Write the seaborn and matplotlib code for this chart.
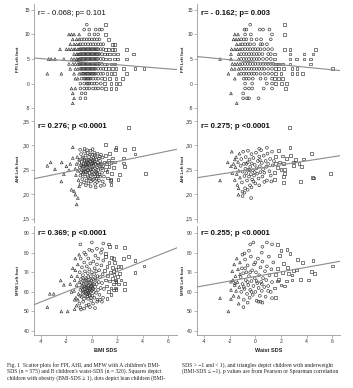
import numpy as np
import pandas as pd
import seaborn as sns
import matplotlib.pyplot as plt

sns.set_theme(style="white")
plt.rcParams['font.family'] = ['Liberation Sans', 'DejaVu Sans']

# ---- FPI (integer scores): x positions for each score level ----
fpi_levels = [12, 11, 10, 9, 8, 7, 6, 5, 4, 3, 2, 1, 0, -1, -2, -3, -4]

fpi_bmi_rows = [
    [-0.4, 1.1],
    [-0.6, -0.2, 0.3, 0.6, 0.8],
    [-1.8, -1.6, -1.4, -1.0, -0.2, 0.2, 0.5, 1.1],
    [-1.5, -1.2, -1.0, -0.8, -0.6, -0.4, -0.2, 0.0, 0.2, 0.4, 0.6, 1.3],
    [-1.7, -1.4, -1.2, -1.0, -0.9, -0.7, -0.5, -0.3, -0.1, 0.1, 0.3, 0.5, 0.7, 0.9, 1.6, 1.8],
    [-2.5, -2.0, -1.8, -1.6, -1.4, -1.3, -1.1, -1.0, -0.9, -0.8, -0.7, -0.6, -0.5, -0.4, -0.3,
     -0.2, -0.1, 0.0, 0.1, 0.2, 0.3, 0.4, 0.5, 0.7, 0.9, 1.1, 1.3, 1.6, 1.8, 2.7],
    [-1.4, -1.2, -1.1, -1.0, -0.9, -0.8, -0.7, -0.6, -0.5, -0.4, -0.3, -0.2, -0.1, 0.0, 0.1,
     0.2, 0.3, 0.4, 0.5, 0.6, 0.8, 1.0, 1.2, 1.4, 1.7, 2.0, 3.3],
    [-3.4, -3.2, -2.9, -2.2, -1.6, -1.4, -1.2, -1.1, -1.0, -0.9, -0.8, -0.7, -0.6, -0.5, -0.4,
     -0.3, -0.2, -0.1, 0.0, 0.1, 0.2, 0.3, 0.4, 0.5, 0.7, 0.9, 1.1, 1.4, 1.8, 2.0, 2.7],
    [-1.8, -1.5, -1.3, -1.1, -1.0, -0.9, -0.8, -0.7, -0.6, -0.5, -0.4, -0.3, -0.2, -0.1, 0.0,
     0.1, 0.2, 0.3, 0.4, 0.5, 0.6, 0.8, 1.0, 1.2, 1.5, 1.8],
    [-1.7, -1.3, -1.1, -0.9, -0.8, -0.7, -0.6, -0.5, -0.4, -0.3, -0.2, -0.1, 0.0, 0.1, 0.2,
     0.3, 0.5, 0.7, 0.9, 1.1, 1.3, 1.6, 1.9, 2.5, 3.4, 4.1],
    [-3.5, -2.4, -1.4, -1.0, -0.8, -0.7, -0.6, -0.5, -0.4, -0.3, -0.2, -0.1, 0.0, 0.1, 0.2,
     0.3, 0.5, 0.7, 0.9, 1.2, 1.5, 1.8, 2.7],
    [-1.3, -1.1, -0.8, -0.6, -0.5, -0.4, -0.3, -0.2, -0.1, 0.1, 0.3, 0.5, 0.8, 1.0, 1.4, 1.9, 2.4],
    [-0.9, -0.6, -0.4, -0.3, -0.2, 0.0, 0.2, 0.4, 0.7, 1.0, 1.5, 1.9, 2.2],
    [-1.6, -1.3, -0.9, -0.6, -0.4, -0.2, 0.1, 0.3, 0.5, 0.8, 1.1, 1.5, 1.9],
    [-1.5, -0.8, -0.5],
    [-1.4, -0.9, -0.5],
    [-1.5],
]

fpi_waist_rows = [
    [-0.4, 2.3],
    [-0.85, -0.7, 0.35, 0.6, 1.1],
    [-1.6, -1.35, -0.8, -0.35, 1.3, 2.3],
    [-1.7, -1.5, -1.3, -1.1, -0.9, -0.7, -0.3, 0.1, 0.45, 1.2],
    [-1.45, -1.2, -1.0, -0.8, -0.6, -0.4, -0.1, 0.4, 0.55, 0.9],
    [-1.85, -1.6, -1.4, -1.2, -1.0, -0.8, -0.6, -0.4, -0.2, 0.0, 0.2, 0.4, 0.7, 1.0, 1.3, 2.3, 2.7, 4.7],
    [-1.9, -1.3, -1.1, -0.9, -0.7, -0.5, -0.3, -0.1, 0.1, 0.3, 0.55, 1.0, 1.2, 1.5, 2.7, 3.8, 4.5],
    [-2.75, -1.9, -1.3, -1.1, -0.9, -0.7, -0.5, -0.3, -0.1, 0.1, 0.3, 0.6, 0.9, 1.2, 1.5, 2.7,
     3.2, 3.8, 4.3],
    [-1.8, -1.6, -1.4, -1.2, -1.0, -0.8, -0.6, -0.4, -0.2, 0.0, 0.2, 0.4, 0.6, 0.8, 1.0, 1.2,
     1.4, 1.6, 1.8, 2.1, 2.7, 4.3],
    [-1.85, -1.6, -1.3, -1.1, -0.9, -0.7, -0.5, -0.3, -0.1, 0.1, 0.3, 0.5, 0.7, 1.0, 1.3, 1.6,
     1.8, 2.2, 2.85, 3.25, 6.0],
    [-2.1, -1.3, -1.1, -0.9, -0.7, -0.5, -0.3, -0.1, 0.1, 0.4, 0.7, 1.0, 1.3, 1.6, 2.0, 2.85, 3.25, 3.7],
    [-1.6, -0.9, -0.7, -0.5, -0.2, 0.4, 0.8, 1.3, 1.5, 1.8, 2.1],
    [-0.8, -0.25, 0.9, 1.3, 1.55, 2.05, 2.45],
    [-0.8, -0.5, -0.25, 0.65, 1.3, 2.35],
    [-1.9, -0.95],
    [-0.95, -0.65, -0.5, 0.25],
    [-1.45],
]

# ---- AHI vs BMI-SDS ----
ahi_bmi_pts = [
    (-1.2, .262), (-1.1, .248), (-1.0, .271), (-0.95, .255), (-0.9, .238), (-0.85, .282), (-0.8, .266),
    (-0.78, .249), (-0.75, .231), (-0.7, .275), (-0.68, .258), (-0.65, .244), (-0.6, .287), (-0.58, .268),
    (-0.55, .252), (-0.52, .236), (-0.5, .279), (-0.48, .261), (-0.45, .245), (-0.42, .228), (-0.4, .270),
    (-0.38, .256), (-0.35, .240), (-0.32, .284), (-0.3, .264), (-0.28, .249), (-0.25, .233), (-0.22, .276),
    (-0.2, .259), (-0.18, .243), (-0.15, .268), (-0.12, .252), (-0.1, .289), (-0.08, .237), (-0.05, .272),
    (-0.02, .257), (0.0, .246), (0.03, .281), (0.05, .263), (0.08, .229), (0.1, .250), (0.12, .274),
    (0.15, .258), (0.18, .241), (0.2, .285), (0.22, .267), (0.25, .253), (0.28, .236), (0.3, .276),
    (0.33, .261), (0.35, .246), (0.38, .271), (0.4, .255), (0.42, .225), (0.45, .283), (0.48, .264),
    (0.5, .249), (0.55, .273), (0.58, .258), (0.6, .240), (0.65, .268), (0.7, .252), (0.72, .281),
    (0.75, .262), (0.8, .244), (0.85, .275), (0.9, .257), (0.95, .236), (1.0, .266), (1.05, .251),
    (1.1, .279), (1.15, .262), (1.2, .246), (1.3, .270), (1.35, .256), (1.4, .284), (1.5, .265),
    (1.55, .242), (1.65, .274), (1.7, .255), (1.8, .266), (-1.25, .239), (-1.15, .276), (-1.05, .229),
    (-0.92, .291), (-0.88, .221), (-0.72, .241), (-0.62, .224), (-0.57, .293), (-0.47, .218),
    (-0.36, .290), (-0.27, .222), (-0.16, .232), (-0.06, .226), (0.06, .292), (0.16, .231), (0.26, .221),
    (0.36, .232), (0.46, .236), (0.56, .228), (0.66, .236), (0.86, .226), (1.25, .233), (1.45, .228),
    (-0.82, .258), (-0.66, .250), (-0.44, .262), (-0.24, .270), (-0.04, .262), (0.14, .266), (0.32, .244),
    (0.52, .260), (0.62, .277), (0.82, .253), (-1.3, .252), (-0.98, .264), (-0.76, .273), (-0.54, .270),
    (-0.34, .249), (-0.14, .281), (0.02, .240), (0.24, .279), (0.44, .242), (0.68, .261),
    (-0.86, .245), (-0.64, .262), (-0.46, .254), (-0.26, .256), (-0.06, .250), (0.12, .258),
    (-0.72, .256), (-0.52, .246), (-0.32, .262), (-0.12, .266), (0.08, .270), (0.28, .262),
    (2.88, .337), (-3.5, .258), (-3.24, .265), (-2.37, .265), (-2.9, .251), (-2.2, .241), (-2.4, .226),
    (-1.5, .274), (-1.5, .296), (-1.19, .179), (-1.1, .192), (-1.4, .206), (-1.6, .209), (-1.3, .199),
    (-1.0, .216), (3.27, .294), (2.6, .292), (3.4, .282), (2.5, .274), (2.5, .264), (2.6, .257),
    (4.2, .242), (1.86, .291), (1.9, .296), (2.2, .240), (2.05, .230), (1.5, .230), (0.97, .219),
    (1.5, .219), (0.7, .217), (-0.1, .216), (0.3, .214), (1.1, .302), (-1.7, .262), (-1.8, .249),
    (-2.0, .257),
]

# ---- AHI vs waist-SDS ----
ahi_waist_pts = [
    (-1.8, .243), (-1.7, .262), (-1.6, .229), (-1.55, .255), (-1.5, .276), (-1.45, .241), (-1.4, .219),
    (-1.35, .266), (-1.3, .248), (-1.25, .283), (-1.2, .234), (-1.15, .258), (-1.1, .272), (-1.05, .224),
    (-1.0, .246), (-0.95, .287), (-0.9, .262), (-0.85, .237), (-0.8, .212), (-0.78, .252), (-0.75, .276),
    (-0.7, .243), (-0.65, .228), (-0.6, .265), (-0.58, .289), (-0.55, .250), (-0.5, .236), (-0.45, .271),
    (-0.42, .218), (-0.4, .256), (-0.35, .241), (-0.3, .282), (-0.28, .263), (-0.25, .230), (-0.2, .249),
    (-0.15, .274), (-0.1, .238), (-0.05, .260), (0.0, .222), (0.05, .285), (0.1, .253), (0.15, .242),
    (0.2, .268), (0.25, .232), (0.3, .277), (0.35, .257), (0.4, .245), (0.45, .290), (0.5, .264),
    (0.55, .236), (0.6, .251), (0.65, .279), (0.7, .244), (0.8, .268), (0.85, .256), (0.9, .228),
    (0.95, .283), (1.0, .262), (1.1, .247), (1.15, .272), (1.2, .238), (1.3, .287), (1.35, .259),
    (1.45, .268), (1.5, .244), (1.6, .277), (1.7, .255), (1.8, .289), (1.9, .266), (2.0, .250),
    (2.1, .278), (2.2, .262), (2.4, .273), (-1.0, .205), (-0.6, .209), (-0.3, .214), (0.3, .218),
    (-1.3, .212), (0.7, .225), (1.25, .226), (-0.15, .226), (-0.7, .262), (-0.45, .249), (-0.05, .245),
    (0.35, .270), (1.55, .262), (2.3, .250), (-1.6, .271), (-1.9, .257),
    (2.67, .337), (-1.84, .287), (-2.15, .265), (-2.75, .228), (-1.32, .199), (-0.33, .192),
    (5.85, .242), (4.54, .233), (4.45, .234), (3.5, .226), (4.4, .284), (2.7, .296), (2.3, .243),
    (3.76, .272), (3.4, .262), (3.6, .257), (2.95, .258), (2.75, .279), (2.2, .224), (2.2, .236),
    (1.5, .230), (-1.0, .196), (-0.85, .203), (0.9, .295), (0.3, .293), (3.1, .271), (3.0, .266),
]

# ---- MFW vs BMI-SDS ----
mfw_bmi_pts = [
    (-1.4, 60.5), (-1.35, 66), (-1.3, 71), (-1.25, 57), (-1.2, 63.5), (-1.15, 68), (-1.1, 74), (-1.05, 59),
    (-1.0, 65), (-0.98, 54), (-0.95, 70), (-0.9, 61), (-0.88, 77), (-0.85, 66.5), (-0.8, 57.5),
    (-0.78, 72.5), (-0.75, 63), (-0.7, 68.5), (-0.68, 55), (-0.65, 60), (-0.6, 75), (-0.58, 65.5),
    (-0.55, 70.5), (-0.52, 58), (-0.5, 62.5), (-0.48, 79), (-0.45, 67), (-0.42, 53), (-0.4, 73),
    (-0.38, 60.5), (-0.35, 64.5), (-0.32, 69.5), (-0.3, 56.5), (-0.28, 77), (-0.25, 62), (-0.22, 66),
    (-0.2, 71.5), (-0.18, 58.5), (-0.15, 64), (-0.12, 74.5), (-0.1, 60), (-0.08, 68), (-0.05, 55.5),
    (-0.02, 63), (0.0, 70), (0.03, 81), (0.05, 58), (0.08, 66.5), (0.1, 61.5), (0.12, 75.5), (0.15, 64),
    (0.18, 69), (0.2, 57), (0.22, 72), (0.25, 62.5), (0.28, 78.5), (0.3, 66), (0.33, 59.5), (0.35, 70.5),
    (0.38, 64), (0.4, 74), (0.42, 55), (0.45, 68), (0.48, 61), (0.5, 77), (0.55, 65), (0.58, 71),
    (0.6, 58.5), (0.65, 67.5), (0.7, 62), (0.72, 80), (0.75, 73.5), (0.8, 64.5), (0.85, 69), (0.88, 57),
    (0.9, 76), (0.95, 61.5), (1.0, 71), (1.05, 66), (1.1, 78), (1.15, 63), (1.2, 73), (1.25, 68.5),
    (1.3, 60), (1.35, 75), (1.4, 65.5), (1.45, 70), (1.5, 62), (1.55, 77.5), (1.6, 67), (1.65, 72.5),
    (1.7, 64), (1.75, 69), (1.8, 75), (1.85, 66), (1.9, 71.5), (2.0, 68), (2.05, 73), (2.1, 64),
    (2.2, 69.5), (-1.1, 56), (-0.92, 58), (-0.72, 59.5), (-0.62, 56.5), (-0.46, 59), (-0.36, 57.5),
    (-0.26, 59.5), (-0.06, 57), (-0.82, 62), (-0.66, 64), (-0.56, 61.5), (-0.44, 63.5), (-0.34, 61),
    (-0.24, 65), (-0.14, 61.5), (-0.04, 66), (0.06, 62), (0.16, 60), (-0.72, 67), (-0.5, 66),
    (-0.3, 67.5), (-0.1, 64.5), (0.26, 67), (-1.2, 53), (-0.9, 52), (-0.6, 51.5), (-0.25, 53.5),
    (0.1, 54), (0.45, 56), (-1.0, 79), (-0.6, 80), (-0.2, 81.5), (0.4, 82), (1.7, 61), (1.85, 62),
    (1.7, 70.5), (1.9, 65), (0.8, 55),
    (-0.7, 61), (-0.5, 60), (-0.3, 63), (-0.1, 62.5), (-0.6, 63), (-0.4, 62), (-0.2, 60.5), (0.0, 61),
    (-0.8, 64.5), (-0.35, 59), (-0.15, 58), (0.05, 64),
    (-3.5, 52.2), (-3.3, 59), (-3.0, 59), (-2.45, 65.8), (-2.2, 63.6), (-2.4, 50), (-1.9, 50),
    (-1.35, 51.2), (-1.35, 56), (-0.9, 84.2), (0.0, 85.2), (0.9, 84.7), (1.3, 84.4), (1.4, 83),
    (1.9, 83), (2.6, 82.5), (0.8, 81.7), (1.1, 79.6), (1.7, 77), (2.9, 77.9), (3.4, 76.2), (2.5, 77),
    (3.4, 69.8), (4.1, 73.2), (2.6, 61.4), (2.6, 64.4), (1.9, 65.2), (1.9, 61.4), (1.5, 58.5),
    (1.2, 56.8), (0.65, 56), (0.25, 51.7), (-0.15, 52.2), (-0.85, 51), (-1.6, 60), (-1.7, 64),
    (-1.6, 68), (-1.5, 72), (-1.3, 77), (2.3, 73), (2.3, 66),
]

# ---- MFW vs waist-SDS ----
mfw_waist_pts = [
    (-1.9, 61), (-1.8, 70.5), (-1.75, 66), (-1.7, 58), (-1.65, 74), (-1.6, 63.5), (-1.55, 68),
    (-1.5, 60.5), (-1.45, 77), (-1.4, 65), (-1.35, 71.5), (-1.3, 57.5), (-1.25, 62.5), (-1.2, 75),
    (-1.15, 67.5), (-1.1, 60), (-1.05, 72), (-1.0, 64), (-0.95, 69.5), (-0.9, 56), (-0.85, 61.5),
    (-0.8, 76.5), (-0.75, 66), (-0.7, 70), (-0.65, 59), (-0.6, 73.5), (-0.55, 63.5), (-0.5, 68),
    (-0.45, 57), (-0.4, 61), (-0.35, 78), (-0.3, 65.5), (-0.25, 71), (-0.2, 58.5), (-0.15, 63),
    (-0.1, 74), (-0.05, 67), (0.0, 60), (0.05, 70), (0.1, 55.5), (0.15, 64.5), (0.2, 77), (0.25, 62),
    (0.3, 68.5), (0.35, 58), (0.4, 72.5), (0.45, 65), (0.5, 60.5), (0.55, 75.5), (0.6, 67), (0.7, 62.5),
    (0.75, 70.5), (0.8, 57.5), (0.85, 66), (0.9, 73), (1.0, 63), (1.05, 78), (1.1, 68.5), (1.2, 60),
    (1.25, 71.5), (1.3, 65), (1.4, 75), (1.5, 62), (1.55, 69), (1.6, 57), (1.7, 72), (1.8, 66.5),
    (1.9, 78.5), (2.0, 63.5), (2.1, 70), (2.2, 74.5), (-1.3, 54), (-0.6, 54.5), (0.4, 55), (-1.0, 79),
    (-0.5, 81), (0.5, 80), (-1.6, 64.5), (-1.2, 69), (-0.9, 62.5), (-0.6, 65), (-0.3, 60), (0.1, 65.5),
    (0.5, 64), (-0.8, 72), (-0.4, 70), (0.0, 75), (1.0, 60.5),
    (-2.1, 50), (-2.75, 56.8), (-0.93, 52.2), (-1.9, 65.2), (-1.9, 56.3), (-0.85, 79.6), (-0.15, 85.2),
    (-0.4, 84.2), (0.9, 85.2), (1.3, 84.2), (1.7, 84.2), (0.55, 83), (2.46, 81.8), (2.0, 81.3),
    (2.7, 79.6), (6.0, 73.2), (4.5, 76.2), (4.4, 70.3), (4.6, 69.5), (3.7, 74.9), (4.15, 66),
    (3.2, 71.2), (2.85, 68.6), (2.85, 66), (2.45, 65.5), (2.3, 63), (1.7, 65.5), (1.3, 56.8),
    (0.24, 55), (0.55, 54.5), (3.5, 66.5), (3.0, 71), (2.6, 69.5), (2.5, 72.5), (3.3, 76.5),
]

stat_labels = ["r= - 0.068; p= 0.101", "r= - 0.162; p= 0.003",
               "r= 0.276; p <0.0001", "r= 0.275; p <0.0001",
               "r= 0.369; p <0.0001", "r= 0.255; p <0.0001"]
fit_slope = [-0.209, -0.256, 0.00537, 0.00404, 2.58, 1.175]
fit_intercept = [4.25, 4.34, 0.256, 0.252, 65.2, 67.85]
y_names = ["FPI Left foot", "AHI Left foot", "MFW Left foot"]
x_names = ["BMI SDS", "Waist SDS"]


def rows_to_frame(levels, rows):
    xs, ys = [], []
    for lv, r in zip(levels, rows):
        xs += r
        ys += [lv] * len(r)
    return np.array(xs), np.array(ys, dtype=float)


def pts_to_frame(pts):
    a = np.array(pts)
    return a[:, 0], a[:, 1]


def make_df(x, y, lo, hi):
    grp = np.where(x <= lo, "under", np.where(x >= hi, "obese", "lean"))
    return pd.DataFrame({"x": x, "y": y, "grp": grp})


frames = [
    make_df(*rows_to_frame(fpi_levels, fpi_bmi_rows), -1, 1),
    make_df(*rows_to_frame(fpi_levels, fpi_waist_rows), -1.2, 1.5),
    make_df(*pts_to_frame(ahi_bmi_pts), -1, 1),
    make_df(*pts_to_frame(ahi_waist_pts), -1.2, 1.5),
    make_df(*pts_to_frame(mfw_bmi_pts), -1, 1),
    make_df(*pts_to_frame(mfw_waist_pts), -1.2, 1.5),
]

W, H = 353, 388
fig = plt.figure(figsize=(W / 100, H / 100), dpi=100)
fig.patch.set_facecolor("white")

col_left = [34, 197]
col_xlim = [(-4.55, 6.7), (-4.55, 6.6)]
row_box = [(4, 115), (116, 222), (226, 335)]  # top, bottom in px
row_ylim = [(-6.4, 16.2), (0.143, 0.360), (38.0, 93.6)]
row_ticks = [[-5, 0, 5, 10, 15], [.15, .20, .25, .30, .35], [40, 50, 60, 70, 80, 90]]
row_ticklabels = [["-5", "0", "5", "10", "15"], [",15", ",20", ",25", ",30", ",35"],
                  ["40", "50", "60", "70", "80", "90"]]
text_y = [0.91, 0.905, 0.935]

axis_grey = "#9a9a9a"
mark_col = "#333333"

for r in range(3):
    for c in range(2):
        k = r * 2 + c
        top, bot = row_box[r]
        ax = fig.add_axes([col_left[c] / W, 1 - bot / H, 143 / W, (bot - top) / H])
        df = frames[k]
        sns.scatterplot(data=df, x="x", y="y", style="grp",
                        markers={"lean": "o", "obese": "s", "under": "^"},
                        s=4, color=mark_col, facecolor="none", edgecolor=mark_col,
                        linewidth=0.45, legend=False, ax=ax, zorder=2)
        xs = np.array(col_xlim[c])
        ax.plot(xs, fit_intercept[k] + fit_slope[k] * xs, color="#8c8c8c", lw=0.8, zorder=3)
        ax.set_xlim(*col_xlim[c])
        ax.set_ylim(*row_ylim[r])
        ax.set_facecolor("white")
        for s in ["top", "right"]:
            ax.spines[s].set_visible(False)
        ax.spines["left"].set_color(axis_grey)
        ax.spines["left"].set_linewidth(0.6)
        ax.set_yticks(row_ticks[r])
        ax.set_yticklabels(row_ticklabels[r])
        ax.tick_params(axis="y", length=2, width=0.5, color=axis_grey, pad=1,
                       labelsize=3.6, labelcolor="#333333", left=True)
        ax.set_ylabel(y_names[r], fontsize=3.2, fontweight="bold", color="#222222")
        ax.yaxis.set_label_coords(-14 / 143 if c == 0 else -12 / 143, 0.5)
        if r < 2:
            ax.spines["bottom"].set_visible(False)
            ax.set_xticks([])
            ax.set_xlabel("")
        else:
            ax.spines["bottom"].set_color(axis_grey)
            ax.spines["bottom"].set_linewidth(0.6)
            ax.set_xticks([-4, -2, 0, 2, 4, 6])
            ax.set_xticklabels(["-4", "-2", "0", "2", "4", "6"])
            ax.tick_params(axis="x", length=2, width=0.5, color=axis_grey, pad=1,
                           labelsize=3.6, labelcolor="#333333", bottom=True)
            ax.set_xlabel(x_names[c], fontsize=4.0, fontweight="bold", color="#222222", labelpad=3)
        ax.text(0.028, text_y[r], stat_labels[k], transform=ax.transAxes,
                fontsize=5.6, fontweight="normal" if k == 0 else "bold",
                color="#111111", va="center", ha="left")

# caption
cap_left = ["Fig. 1  Scatter plots for FPI, AHI, and MFW with A children's BMI-",
            "SDS (n = 575) and B children's waist-SDS (n = 320). Squares depict",
            "children with obesity (BMI-SDS \u2265 1), dots depict lean children (BMI-"]
cap_right = ["SDS > \u22121 and < 1), and triangles depict children with underweight",
             "(BMI-SDS \u2264 \u22121). p values are from Pearson or Spearman correlation"]
for i, line in enumerate(cap_left):
    fig.text(7 / W, 1 - (365 + 6.5 * i) / H, line, fontsize=4.1,
             family=["Liberation Serif", "DejaVu Serif"], color="#222222", va="center")
for i, line in enumerate(cap_right):
    fig.text(182 / W, 1 - (365 + 6.5 * i) / H, line, fontsize=4.1,
             family=["Liberation Serif", "DejaVu Serif"], color="#222222", va="center")

fig.savefig("out.png", dpi=100, facecolor="white")
